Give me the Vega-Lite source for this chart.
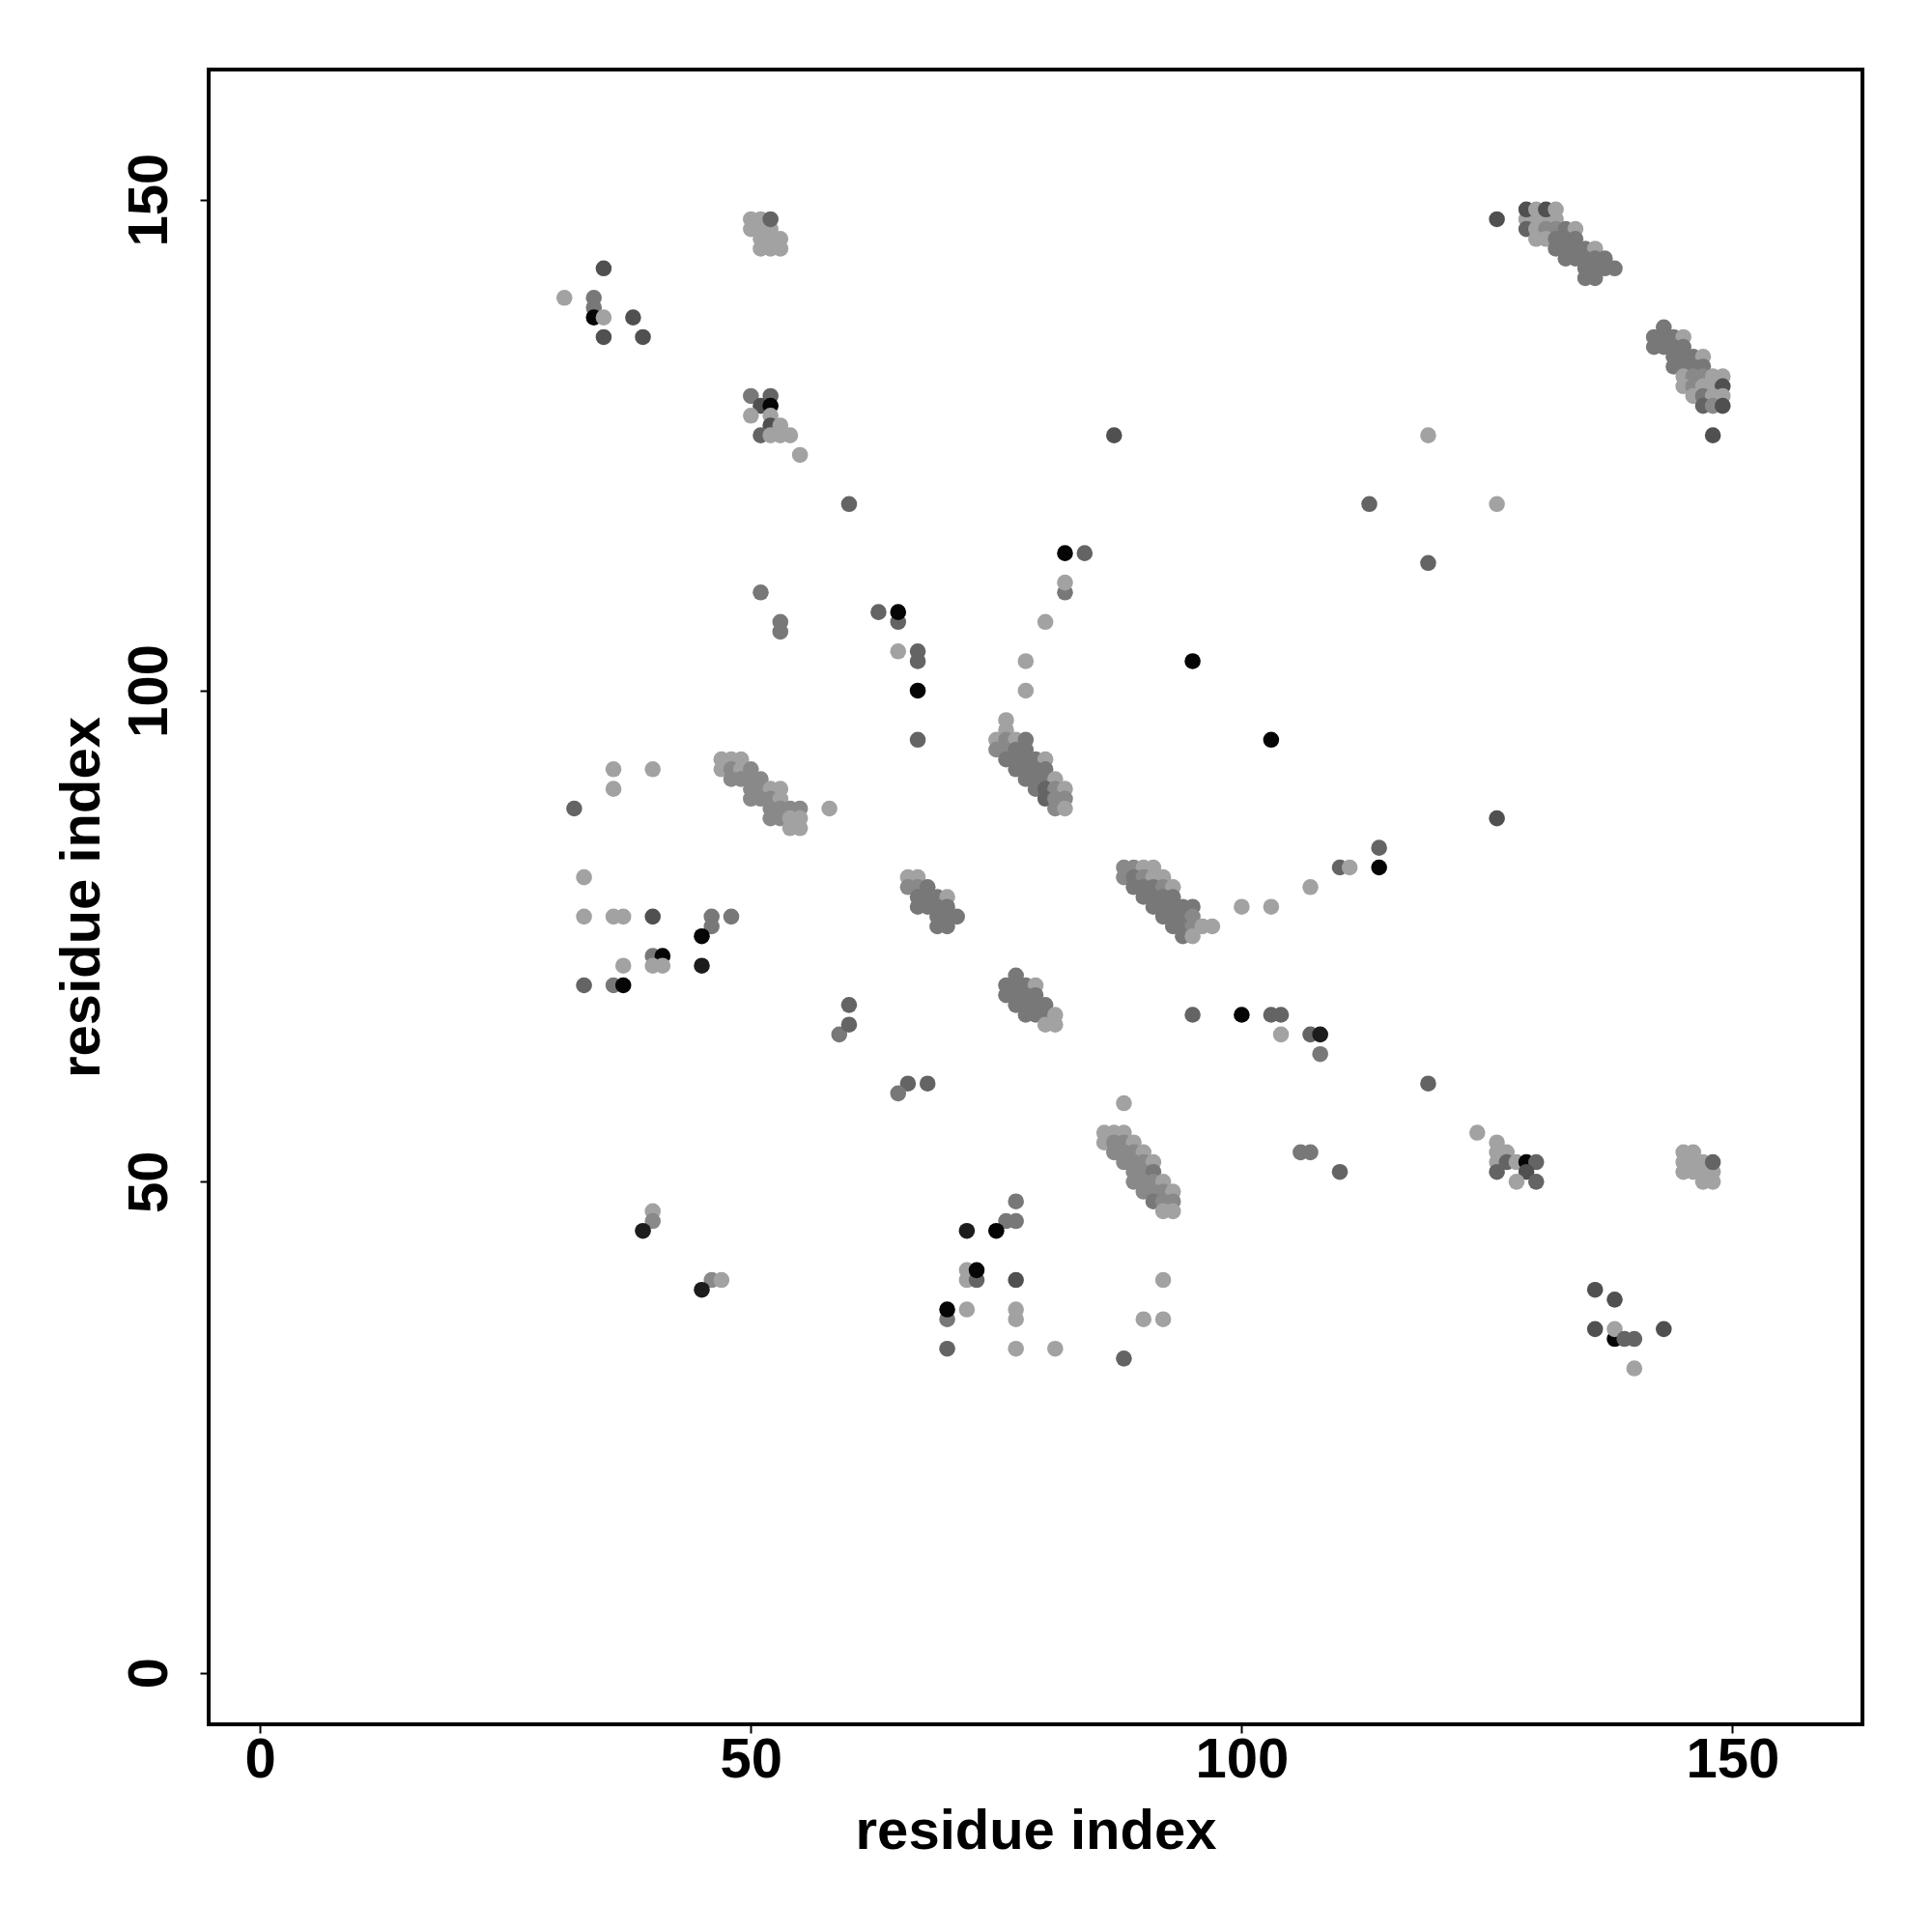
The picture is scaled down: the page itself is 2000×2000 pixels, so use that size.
{
  "$schema": "https://vega.github.io/schema/vega-lite/v6.json",
  "autosize": {"type": "none"},
  "padding": {"left": 216, "top": 72, "right": 72, "bottom": 215},
  "width": 1712,
  "height": 1713,
  "background": "white",
  "config": {
    "view": {"stroke": "black", "strokeWidth": 4},
    "axis": {
      "grid": false,
      "domain": false,
      "ticks": true,
      "tickSize": 9,
      "tickWidth": 2,
      "tickColor": "black",
      "labelFont": "Liberation Sans",
      "labelFontWeight": "bold",
      "labelFontSize": 58,
      "labelColor": "black",
      "titleFont": "Liberation Sans",
      "titleFontWeight": "bold",
      "titleFontSize": 58,
      "titleColor": "black"
    }
  },
  "data": {
    "values": [
      {"x":31,"y":140,"s":0.98},{"x":35,"y":143,"s":0.5},{"x":34,"y":140,"s":0.74},{"x":34,"y":139,"s":0.74},{"x":34,"y":138,"s":0.02},{"x":35,"y":138,"s":0.98},{"x":38,"y":138,"s":0.5},{"x":35,"y":136,"s":0.5},{"x":39,"y":136,"s":0.5},
      {"x":50,"y":148,"s":0.98},{"x":51,"y":148,"s":0.98},{"x":50,"y":147,"s":0.98},{"x":51,"y":147,"s":0.98},{"x":52,"y":147,"s":0.98},{"x":51,"y":146,"s":0.98},{"x":52,"y":146,"s":0.98},{"x":53,"y":146,"s":0.98},{"x":51,"y":145,"s":0.98},{"x":52,"y":145,"s":0.98},{"x":53,"y":145,"s":0.98},{"x":52,"y":148,"s":0.62},
      {"x":50,"y":130,"s":0.74},{"x":52,"y":130,"s":0.62},{"x":51,"y":129,"s":0.5},{"x":52,"y":129,"s":0.02},{"x":50,"y":128,"s":0.98},{"x":52,"y":128,"s":0.98},{"x":52,"y":127,"s":0.5},{"x":53,"y":127,"s":0.98},{"x":51,"y":126,"s":0.62},{"x":52,"y":126,"s":0.98},{"x":53,"y":126,"s":0.98},{"x":54,"y":126,"s":0.98},{"x":55,"y":124,"s":0.98},
      {"x":51,"y":110,"s":0.74},{"x":53,"y":107,"s":0.74},{"x":53,"y":106,"s":0.74},
      {"x":60,"y":119,"s":0.62},{"x":63,"y":108,"s":0.62},{"x":65,"y":107,"s":0.62},{"x":65,"y":108,"s":0.02},
      {"x":65,"y":104,"s":0.98},{"x":67,"y":104,"s":0.62},{"x":67,"y":103,"s":0.62},{"x":67,"y":100,"s":0.02},{"x":67,"y":95,"s":0.62},
      {"x":78,"y":103,"s":0.98},{"x":78,"y":100,"s":0.98},{"x":80,"y":107,"s":0.98},
      {"x":82,"y":114,"s":0.02},{"x":84,"y":114,"s":0.62},{"x":82,"y":110,"s":0.74},{"x":82,"y":111,"s":0.98},
      {"x":87,"y":126,"s":0.5},{"x":95,"y":103,"s":0.02},{"x":103,"y":95,"s":0.02},
      {"x":113,"y":119,"s":0.62},{"x":119,"y":113,"s":0.62},{"x":119,"y":126,"s":0.98},{"x":126,"y":119,"s":0.98},{"x":126,"y":148,"s":0.5},
      {"x":129,"y":148,"s":0.98},{"x":130,"y":148,"s":0.98},{"x":131,"y":148,"s":0.98},{"x":132,"y":148,"s":0.98},
      {"x":129,"y":149,"s":0.5},{"x":130,"y":149,"s":0.98},{"x":131,"y":149,"s":0.5},{"x":132,"y":149,"s":0.98},
      {"x":129,"y":147,"s":0.62},{"x":130,"y":147,"s":0.98},{"x":131,"y":147,"s":0.84},{"x":132,"y":147,"s":0.84},{"x":133,"y":147,"s":0.74},{"x":134,"y":147,"s":0.98},
      {"x":130,"y":146,"s":0.98},{"x":131,"y":146,"s":0.98},{"x":132,"y":146,"s":0.74},{"x":133,"y":146,"s":0.74},{"x":134,"y":146,"s":0.74},
      {"x":132,"y":145,"s":0.74},{"x":133,"y":145,"s":0.74},{"x":134,"y":145,"s":0.74},{"x":135,"y":145,"s":0.74},{"x":136,"y":145,"s":0.98},
      {"x":133,"y":144,"s":0.74},{"x":134,"y":144,"s":0.74},{"x":135,"y":144,"s":0.74},{"x":136,"y":144,"s":0.74},{"x":137,"y":144,"s":0.74},
      {"x":135,"y":143,"s":0.74},{"x":136,"y":143,"s":0.74},{"x":137,"y":143,"s":0.74},{"x":138,"y":143,"s":0.74},
      {"x":135,"y":142,"s":0.74},{"x":136,"y":142,"s":0.74},
      {"x":143,"y":137,"s":0.74},
      {"x":142,"y":136,"s":0.74},{"x":143,"y":136,"s":0.74},{"x":144,"y":136,"s":0.74},{"x":145,"y":136,"s":0.98},
      {"x":142,"y":135,"s":0.74},{"x":143,"y":135,"s":0.74},{"x":144,"y":135,"s":0.74},{"x":145,"y":135,"s":0.74},
      {"x":144,"y":134,"s":0.74},{"x":145,"y":134,"s":0.74},{"x":146,"y":134,"s":0.74},{"x":147,"y":134,"s":0.98},
      {"x":144,"y":133,"s":0.74},{"x":145,"y":133,"s":0.74},{"x":146,"y":133,"s":0.74},{"x":147,"y":133,"s":0.74},
      {"x":145,"y":132,"s":0.98},{"x":146,"y":132,"s":0.84},{"x":147,"y":132,"s":0.84},{"x":148,"y":132,"s":0.98},{"x":149,"y":132,"s":0.98},
      {"x":145,"y":131,"s":0.98},{"x":146,"y":131,"s":0.84},{"x":147,"y":131,"s":0.98},{"x":148,"y":131,"s":0.98},{"x":149,"y":131,"s":0.5},
      {"x":146,"y":130,"s":0.98},{"x":147,"y":130,"s":0.74},{"x":148,"y":130,"s":0.98},{"x":149,"y":130,"s":0.98},
      {"x":147,"y":129,"s":0.62},{"x":148,"y":129,"s":0.84},{"x":149,"y":129,"s":0.5},
      {"x":148,"y":126,"s":0.5},
      {"x":36,"y":92,"s":0.98},{"x":40,"y":92,"s":0.98},{"x":36,"y":90,"s":0.98},{"x":32,"y":88,"s":0.62},{"x":58,"y":88,"s":0.98},
      {"x":47,"y":93,"s":0.98},{"x":48,"y":93,"s":0.98},{"x":49,"y":93,"s":0.98},
      {"x":47,"y":92,"s":0.98},{"x":48,"y":92,"s":0.84},{"x":49,"y":92,"s":0.98},{"x":50,"y":92,"s":0.84},
      {"x":48,"y":91,"s":0.84},{"x":49,"y":91,"s":0.84},{"x":50,"y":91,"s":0.84},{"x":51,"y":91,"s":0.84},
      {"x":50,"y":90,"s":0.84},{"x":51,"y":90,"s":0.84},{"x":52,"y":90,"s":0.98},{"x":53,"y":90,"s":0.98},
      {"x":50,"y":89,"s":0.84},{"x":51,"y":89,"s":0.84},{"x":52,"y":89,"s":0.84},{"x":53,"y":89,"s":0.98},
      {"x":52,"y":88,"s":0.84},{"x":53,"y":88,"s":0.84},{"x":54,"y":88,"s":0.84},{"x":55,"y":88,"s":0.84},
      {"x":52,"y":87,"s":0.84},{"x":53,"y":87,"s":0.84},{"x":54,"y":87,"s":0.98},{"x":55,"y":87,"s":0.98},
      {"x":54,"y":86,"s":0.98},{"x":55,"y":86,"s":0.98},
      {"x":33,"y":81,"s":0.98},{"x":33,"y":77,"s":0.98},{"x":36,"y":77,"s":0.98},{"x":37,"y":77,"s":0.98},{"x":40,"y":77,"s":0.5},{"x":46,"y":77,"s":0.74},{"x":48,"y":77,"s":0.74},{"x":46,"y":76,"s":0.74},{"x":45,"y":75,"s":0.02},
      {"x":40,"y":73,"s":0.74},{"x":41,"y":73,"s":0.02},{"x":40,"y":72,"s":0.98},{"x":41,"y":72,"s":0.98},{"x":37,"y":72,"s":0.98},{"x":45,"y":72,"s":0.15},
      {"x":33,"y":70,"s":0.62},{"x":36,"y":70,"s":0.74},{"x":37,"y":70,"s":0.02},
      {"x":76,"y":97,"s":0.98},{"x":76,"y":96,"s":0.98},
      {"x":75,"y":95,"s":0.98},{"x":76,"y":95,"s":0.84},{"x":77,"y":95,"s":0.98},{"x":78,"y":95,"s":0.74},
      {"x":75,"y":94,"s":0.84},{"x":76,"y":94,"s":0.84},{"x":77,"y":94,"s":0.74},{"x":78,"y":94,"s":0.74},
      {"x":76,"y":93,"s":0.74},{"x":77,"y":93,"s":0.74},{"x":78,"y":93,"s":0.74},{"x":79,"y":93,"s":0.74},{"x":80,"y":93,"s":0.98},
      {"x":77,"y":92,"s":0.74},{"x":78,"y":92,"s":0.74},{"x":79,"y":92,"s":0.74},{"x":80,"y":92,"s":0.74},
      {"x":78,"y":91,"s":0.74},{"x":79,"y":91,"s":0.74},{"x":80,"y":91,"s":0.74},{"x":81,"y":91,"s":0.98},
      {"x":79,"y":90,"s":0.74},{"x":80,"y":90,"s":0.62},{"x":81,"y":90,"s":0.84},{"x":82,"y":90,"s":0.98},
      {"x":80,"y":89,"s":0.62},{"x":81,"y":89,"s":0.84},{"x":82,"y":89,"s":0.84},
      {"x":81,"y":88,"s":0.84},{"x":82,"y":88,"s":0.98},
      {"x":66,"y":81,"s":0.98},{"x":67,"y":81,"s":0.98},
      {"x":66,"y":80,"s":0.84},{"x":67,"y":80,"s":0.84},{"x":68,"y":80,"s":0.74},
      {"x":67,"y":79,"s":0.74},{"x":68,"y":79,"s":0.74},{"x":69,"y":79,"s":0.74},{"x":70,"y":79,"s":0.98},
      {"x":67,"y":78,"s":0.74},{"x":68,"y":78,"s":0.74},{"x":69,"y":78,"s":0.74},{"x":70,"y":78,"s":0.74},
      {"x":69,"y":77,"s":0.74},{"x":70,"y":77,"s":0.74},{"x":71,"y":77,"s":0.74},
      {"x":69,"y":76,"s":0.74},{"x":70,"y":76,"s":0.74},
      {"x":88,"y":82,"s":0.84},{"x":89,"y":82,"s":0.84},{"x":90,"y":82,"s":0.98},{"x":91,"y":82,"s":0.98},
      {"x":88,"y":81,"s":0.84},{"x":89,"y":81,"s":0.74},{"x":90,"y":81,"s":0.84},{"x":91,"y":81,"s":0.98},{"x":92,"y":81,"s":0.98},
      {"x":89,"y":80,"s":0.74},{"x":90,"y":80,"s":0.74},{"x":91,"y":80,"s":0.74},{"x":92,"y":80,"s":0.84},{"x":93,"y":80,"s":0.98},
      {"x":90,"y":79,"s":0.74},{"x":91,"y":79,"s":0.74},{"x":92,"y":79,"s":0.74},{"x":93,"y":79,"s":0.74},
      {"x":91,"y":78,"s":0.74},{"x":92,"y":78,"s":0.74},{"x":93,"y":78,"s":0.74},{"x":94,"y":78,"s":0.74},{"x":95,"y":78,"s":0.74},
      {"x":92,"y":77,"s":0.74},{"x":93,"y":77,"s":0.74},{"x":94,"y":77,"s":0.74},{"x":95,"y":77,"s":0.84},
      {"x":93,"y":76,"s":0.74},{"x":94,"y":76,"s":0.74},{"x":95,"y":76,"s":0.84},{"x":96,"y":76,"s":0.98},{"x":97,"y":76,"s":0.98},
      {"x":94,"y":75,"s":0.74},{"x":95,"y":75,"s":0.98},
      {"x":100,"y":78,"s":0.98},{"x":103,"y":78,"s":0.98},{"x":107,"y":80,"s":0.98},{"x":110,"y":82,"s":0.62},{"x":111,"y":82,"s":0.98},{"x":114,"y":84,"s":0.62},{"x":114,"y":82,"s":0.02},
      {"x":126,"y":87,"s":0.5},
      {"x":59,"y":65,"s":0.74},{"x":60,"y":66,"s":0.62},{"x":60,"y":68,"s":0.62},
      {"x":66,"y":60,"s":0.62},{"x":68,"y":60,"s":0.62},{"x":65,"y":59,"s":0.74},
      {"x":77,"y":71,"s":0.74},
      {"x":76,"y":70,"s":0.74},{"x":77,"y":70,"s":0.74},{"x":78,"y":70,"s":0.74},{"x":79,"y":70,"s":0.98},
      {"x":76,"y":69,"s":0.74},{"x":77,"y":69,"s":0.74},{"x":78,"y":69,"s":0.74},{"x":79,"y":69,"s":0.74},
      {"x":77,"y":68,"s":0.74},{"x":78,"y":68,"s":0.74},{"x":79,"y":68,"s":0.74},{"x":80,"y":68,"s":0.74},
      {"x":78,"y":67,"s":0.74},{"x":79,"y":67,"s":0.74},{"x":80,"y":67,"s":0.74},{"x":81,"y":67,"s":0.98},
      {"x":80,"y":66,"s":0.98},{"x":81,"y":66,"s":0.98},
      {"x":95,"y":67,"s":0.62},{"x":100,"y":67,"s":0.02},{"x":103,"y":67,"s":0.62},{"x":104,"y":67,"s":0.62},{"x":104,"y":65,"s":0.98},{"x":107,"y":65,"s":0.62},{"x":108,"y":65,"s":0.15},{"x":108,"y":63,"s":0.74},
      {"x":119,"y":60,"s":0.62},{"x":88,"y":58,"s":0.98},
      {"x":86,"y":55,"s":0.98},{"x":87,"y":55,"s":0.98},{"x":88,"y":55,"s":0.98},
      {"x":86,"y":54,"s":0.98},{"x":87,"y":54,"s":0.84},{"x":88,"y":54,"s":0.84},{"x":89,"y":54,"s":0.98},
      {"x":87,"y":53,"s":0.84},{"x":88,"y":53,"s":0.84},{"x":89,"y":53,"s":0.84},{"x":90,"y":53,"s":0.98},
      {"x":88,"y":52,"s":0.84},{"x":89,"y":52,"s":0.84},{"x":90,"y":52,"s":0.84},{"x":91,"y":52,"s":0.98},
      {"x":89,"y":51,"s":0.84},{"x":90,"y":51,"s":0.84},{"x":91,"y":51,"s":0.74},
      {"x":89,"y":50,"s":0.84},{"x":90,"y":50,"s":0.84},{"x":91,"y":50,"s":0.84},{"x":92,"y":50,"s":0.98},
      {"x":90,"y":49,"s":0.84},{"x":91,"y":49,"s":0.84},{"x":92,"y":49,"s":0.84},{"x":93,"y":49,"s":0.98},
      {"x":91,"y":48,"s":0.74},{"x":92,"y":48,"s":0.84},{"x":93,"y":48,"s":0.84},
      {"x":92,"y":47,"s":0.98},{"x":93,"y":47,"s":0.98},
      {"x":106,"y":53,"s":0.74},{"x":107,"y":53,"s":0.74},{"x":110,"y":51,"s":0.62},
      {"x":124,"y":55,"s":0.98},{"x":126,"y":54,"s":0.98},{"x":126,"y":53,"s":0.98},{"x":127,"y":53,"s":0.98},{"x":126,"y":52,"s":0.98},{"x":127,"y":52,"s":0.62},{"x":128,"y":52,"s":0.98},{"x":129,"y":52,"s":0.02},{"x":130,"y":52,"s":0.62},{"x":126,"y":51,"s":0.62},{"x":129,"y":51,"s":0.5},{"x":128,"y":50,"s":0.98},{"x":130,"y":50,"s":0.62},
      {"x":145,"y":53,"s":0.98},{"x":146,"y":53,"s":0.98},{"x":145,"y":52,"s":0.98},{"x":146,"y":52,"s":0.98},{"x":147,"y":52,"s":0.98},{"x":145,"y":51,"s":0.98},{"x":146,"y":51,"s":0.98},{"x":147,"y":51,"s":0.98},{"x":148,"y":51,"s":0.98},{"x":147,"y":50,"s":0.98},{"x":148,"y":50,"s":0.98},{"x":148,"y":52,"s":0.62},
      {"x":40,"y":47,"s":0.98},{"x":40,"y":46,"s":0.84},{"x":39,"y":45,"s":0.15},
      {"x":46,"y":40,"s":0.84},{"x":47,"y":40,"s":0.98},{"x":45,"y":39,"s":0.15},
      {"x":77,"y":48,"s":0.74},{"x":76,"y":46,"s":0.74},{"x":77,"y":46,"s":0.74},{"x":72,"y":45,"s":0.15},{"x":75,"y":45,"s":0.02},
      {"x":72,"y":41,"s":0.98},{"x":72,"y":40,"s":0.98},{"x":73,"y":40,"s":0.62},{"x":73,"y":41,"s":0.02},{"x":77,"y":40,"s":0.5},
      {"x":70,"y":36,"s":0.74},{"x":70,"y":37,"s":0.02},{"x":72,"y":37,"s":0.98},{"x":77,"y":37,"s":0.98},{"x":77,"y":36,"s":0.98},
      {"x":70,"y":33,"s":0.62},{"x":77,"y":33,"s":0.98},{"x":81,"y":33,"s":0.98},{"x":88,"y":32,"s":0.62},
      {"x":90,"y":36,"s":0.98},{"x":92,"y":40,"s":0.98},{"x":92,"y":36,"s":0.98},
      {"x":136,"y":39,"s":0.5},{"x":138,"y":38,"s":0.5},{"x":136,"y":35,"s":0.5},{"x":138,"y":34,"s":0.02},{"x":138,"y":35,"s":0.98},{"x":139,"y":34,"s":0.62},{"x":140,"y":34,"s":0.62},{"x":143,"y":35,"s":0.5},{"x":140,"y":31,"s":0.98}
    ]
  },
  "mark": {"type": "point", "shape": "circle", "filled": true, "opacity": 1, "size": 275, "strokeWidth": 0},
  "encoding": {
    "x": {
      "field": "x", "type": "quantitative",
      "scale": {"domain": [-5.24, 163.24], "nice": false, "zero": false},
      "axis": {"values": [0, 50, 100, 150], "title": "residue index", "labelPadding": 45, "labelBaseline": "alphabetic", "labelAlign": "center", "titleBaseline": "alphabetic", "titleY": 128, "labelFlush": false}
    },
    "y": {
      "field": "y", "type": "quantitative",
      "scale": {"domain": [-5.24, 163.24], "nice": false, "zero": false},
      "axis": {"values": [0, 50, 100, 150], "title": "residue index", "labelAngle": -90, "labelAlign": "center", "labelBaseline": "alphabetic", "labelPadding": 35, "titleAngle": 270, "titleBaseline": "alphabetic", "titleX": -114, "labelFlush": false}
    },
    "color": {
      "field": "s", "type": "quantitative",
      "scale": {"domain": [0, 1], "range": ["#000000", "#a6a6a6"]},
      "legend": null
    }
  }
}
